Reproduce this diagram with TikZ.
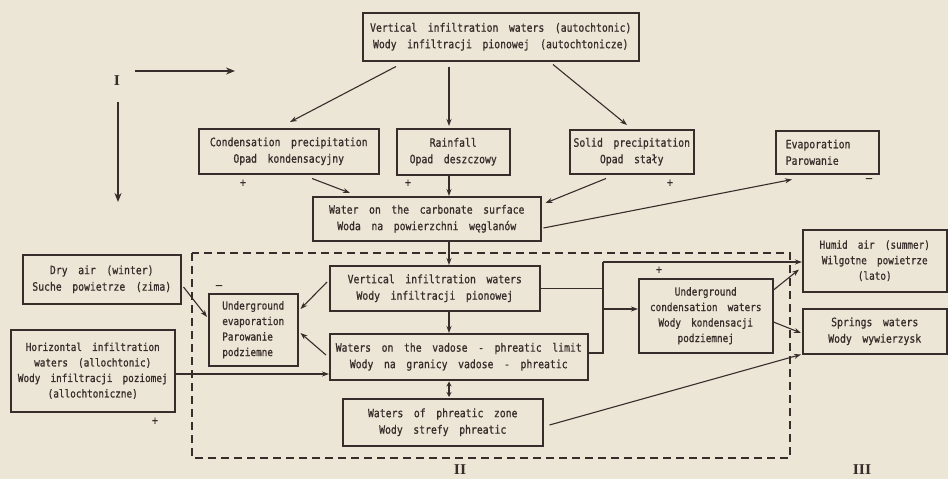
\documentclass[tikz,border=0pt]{standalone}
\usepackage{fontspec}
\setmainfont{DejaVu Sans Mono}[FakeStretch=0.85,WordSpace=1.8,FakeBold=0.8]
\newfontfamily\romfont{Liberation Serif}[FakeStretch=1.05]
\usetikzlibrary{arrows.meta,calc}
\definecolor{bg}{RGB}{236,230,214}
\definecolor{ink}{RGB}{55,45,42}
\begin{document}
\begin{tikzpicture}[x=1pt,y=-1pt,
 box/.style={draw=ink, line width=1.5pt, inner sep=1pt, anchor=north west, align=center,
   font=\fontsize{11.5}{16.5}\selectfont, text=ink},
 sbox/.style={box, font=\fontsize{11}{15.5}\selectfont},
 arr/.style={draw=ink, line width=1.1pt, -{Stealth[length=7pt,width=5pt]}},
 darr/.style={draw=ink, line width=1.1pt, {Stealth[length=5pt,width=5pt]}-{Stealth[length=5pt,width=5pt]}},
 bigarr/.style={draw=ink, line width=1.5pt, -{Stealth[length=9pt,width=7pt]}},
 ln/.style={draw=ink, line width=1.1pt},
 sgn/.style={text=ink, font=\fontsize{12}{12}\selectfont, inner sep=0pt},
 rom/.style={text=ink, font=\romfont\bfseries\fontsize{15}{15}\selectfont, inner sep=0pt}]
\fill[bg] (0,0) rectangle (948,479);
\useasboundingbox (0,0) rectangle (948,479);

% dashed frame
\draw[ink, line width=1.3pt, dash pattern=on 8pt off 5pt] (192,253) rectangle (790,458);

% boxes
\node[box, minimum width=276pt, minimum height=48pt] (top) at (362,12)
  {Vertical infiltration waters (autochtonic)\\Wody infiltracji pionowej (autochtonicze)};
\node[box, minimum width=180pt, minimum height=45pt] (cond) at (198,128)
  {Condensation precipitation\\Opad kondensacyjny};
\node[box, minimum width=113pt, minimum height=46pt] (rain) at (396,128)
  {Rainfall\\Opad deszczowy};
\node[box, minimum width=124pt, minimum height=44pt] (solid) at (569,129)
  {Solid precipitation\\Opad stały};
\node[box, minimum width=103pt, minimum height=43pt, align=left, text width=83pt, inner xsep=10pt] (evap) at (775,130)
  {Evaporation\\Parowanie};
\node[box, minimum width=228pt, minimum height=44pt] (carb) at (312,196)
  {Water on the carbonate surface\\Woda na powierzchni węglanów};
\node[box, minimum width=158pt, minimum height=49pt] (dry) at (22,254)
  {Dry air (winter)\\Suche powietrze (zima)};
\node[sbox, minimum width=164pt, minimum height=82pt] (horiz) at (10,329)
  {Horizontal infiltration\\waters (allochtonic)\\Wody infiltracji poziomej\\(allochtoniczne)};
\node[sbox, minimum width=89pt, minimum height=72pt, align=left] (uevap) at (208,293)
  {Underground\\evaporation\\Parowanie\\podziemne};
\node[box, minimum width=210pt, minimum height=45pt] (vert) at (329,265)
  {Vertical infiltration waters\\Wody infiltracji pionowej};
\node[box, minimum width=258pt, minimum height=46pt] (vad) at (329,333)
  {Waters on the vadose - phreatic limit\\Wody na granicy vadose - phreatic};
\node[box, minimum width=200pt, minimum height=47pt] (phr) at (342,398)
  {Waters of phreatic zone\\Wody strefy phreatic};
\node[sbox, minimum width=134pt, minimum height=74pt] (ucond) at (638,278)
  {Underground\\condensation waters\\Wody kondensacji\\podziemnej};
\node[sbox, minimum width=144pt, minimum height=62pt] (humid) at (802,229)
  {Humid air (summer)\\Wilgotne powietrze\\(lato)};
\node[box, minimum width=144pt, minimum height=45pt] (spring) at (802,308)
  {Springs waters\\Wody wywierzysk};

% arrows top level
\draw[arr] ($(top.south west)+(34,5)$) -- ($(cond.north west)+(92,-6)$);
\draw[arr] ($(top.south west)+(87,5)$) -- ($(rain.north west)+(53,-2)$);
\draw[arr] ($(top.south west)+(191,3)$) -- ($(solid.north west)+(58,-4)$);
\draw[arr] ($(cond.south west)+(114,4)$) -- ($(carb.north west)+(38,-3)$);
\draw[arr] ($(rain.south west)+(53,0)$) -- ($(carb.north west)+(137,0)$);
\draw[arr] ($(solid.south west)+(37,4)$) -- ($(carb.north east)+(4,7)$);
\draw[arr] ($(carb.north east)+(2,32)$) -- ($(evap.south west)+(17,5)$);
\draw[arr] ($(carb.south west)+(137,0)$) -- ($(vert.north west)+(120,0)$);

% left part
\draw[arr] ($(vert.north west)+(-2,17)$) -- ($(uevap.north east)+(2,16)$);
\draw[arr] ($(vad.north west)+(-3,22)$) -- ($(uevap.north east)+(2,40)$);
\draw[arr] ($(dry.north east)+(2,33)$) -- ($(uevap.north west)+(-1,24)$);
\draw[arr] ($(horiz.north east)+(0,45)$) -- ($(vad.north west)+(0,41)$);
\draw[arr] ($(vert.south west)+(120,0)$) -- ($(vad.north west)+(120,0)$);
\draw[darr] ($(vad.south west)+(120,1)$) -- ($(phr.north west)+(107,-1)$);

% right part
\coordinate (jt) at (603,262);
\coordinate (jb) at (603,353);
\coordinate (uc) at ($(ucond.north west)+(0,31)$);
\draw[ln] (vert.east) -- (vert.east -| jt);
\draw[ln] ($(vad.north east)+(0,20)$) -- (jb) -- (jt);
\draw[arr] (jt) -- (jt -| humid.west);
\draw[arr] (uc -| jt) -- (uc);
\draw[arr] ($(ucond.north east)+(0,12)$) -- ($(humid.south west)+(-3,-23)$);
\draw[arr] ($(ucond.north east)+(0,44)$) -- ($(spring.north west)+(-1,25)$);
\draw[arr] ($(phr.north east)+(6,27)$) -- ($(spring.south west)+(-1,0)$);

% signs
\node[sgn] (p1) at (243,183) {+};
\node[sgn] (p2) at (408,183) {+};
\node[sgn] (p3) at (670,183) {+};
\node[sgn] (m1) at (869,180) {–};
\node[sgn] (m2) at (219,287) {–};
\node[sgn] (p4) at (155,421) {+};
\node[sgn] (p5) at (659,270) {+};

% roman numerals and axes
\node[rom] (r1) at (117,81) {I};
\node[rom] (r2) at (460,470) {II};
\node[rom] (r3) at (862,470) {III};
\coordinate (ah0) at (135,71);
\coordinate (ah1) at (235,71);
\coordinate (av0) at (118,102);
\coordinate (av1) at (118,202);
\draw[bigarr] (ah0) -- (ah1);
\draw[bigarr] (av0) -- (av1);
\end{tikzpicture}
\end{document}
